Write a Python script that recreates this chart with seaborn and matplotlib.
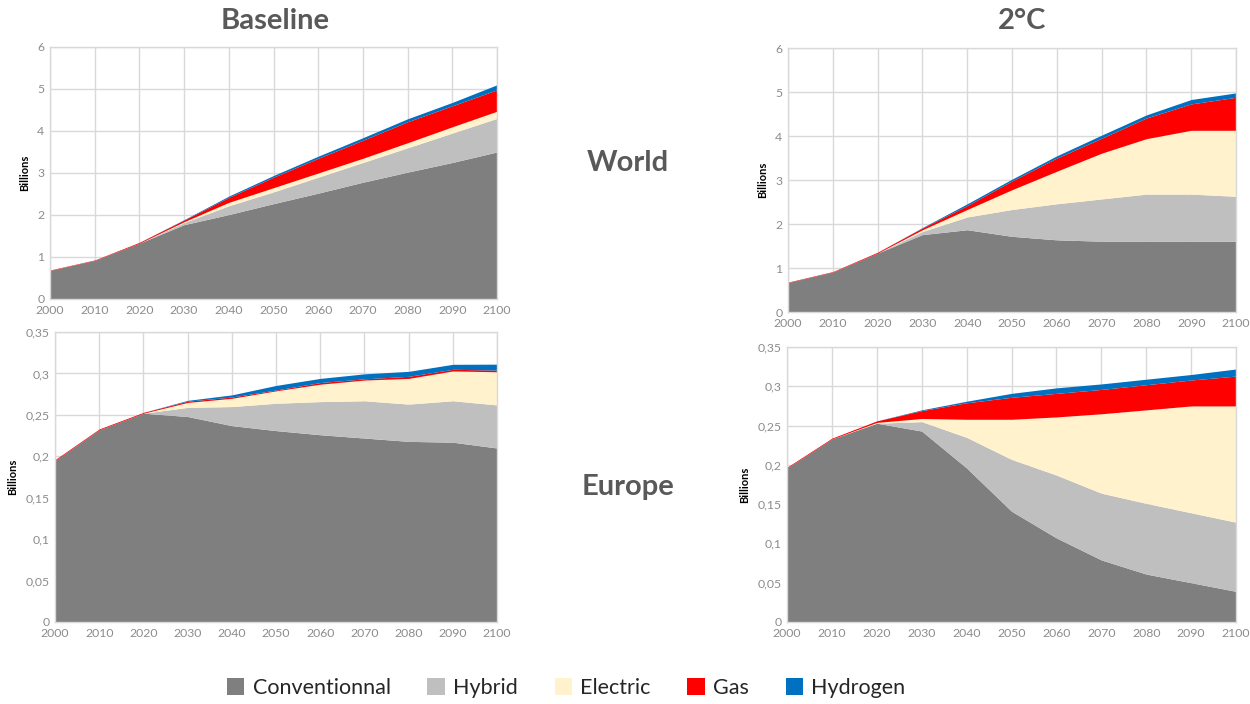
import matplotlib
matplotlib.use("Agg")
import matplotlib.pyplot as plt
import matplotlib.ticker as mticker
from matplotlib.patches import Patch
import numpy as np
import seaborn as sns

# data (billions of vehicles)
years = [2000, 2010, 2020, 2030, 2040, 2050, 2060, 2070, 2080, 2090, 2100]
categories = ["Conventionnal", "Hybrid", "Electric", "Gas", "Hydrogen"]

world_base_conv = [0.68, 0.92, 1.33, 1.77, 2.01, 2.27, 2.52, 2.78, 3.02, 3.25, 3.50]
world_base_hybrid = [0, 0, 0, 0.05, 0.21, 0.28, 0.38, 0.47, 0.58, 0.70, 0.80]
world_base_electric = [0, 0, 0, 0.02, 0.08, 0.10, 0.10, 0.10, 0.12, 0.15, 0.17]
world_base_gas = [0.01, 0.01, 0.02, 0.04, 0.12, 0.25, 0.35, 0.43, 0.50, 0.50, 0.51]
world_base_hydrogen = [0, 0, 0, 0.01, 0.03, 0.04, 0.05, 0.06, 0.07, 0.08, 0.12]

world_2c_conv = [0.67, 0.91, 1.34, 1.76, 1.87, 1.72, 1.64, 1.61, 1.61, 1.61, 1.61]
world_2c_hybrid = [0, 0, 0, 0.07, 0.29, 0.61, 0.82, 0.96, 1.07, 1.07, 1.02]
world_2c_electric = [0, 0, 0, 0.04, 0.17, 0.45, 0.74, 1.04, 1.26, 1.45, 1.50]
world_2c_gas = [0.01, 0.01, 0.02, 0.04, 0.09, 0.20, 0.30, 0.34, 0.47, 0.60, 0.75]
world_2c_hydrogen = [0, 0, 0, 0.01, 0.04, 0.04, 0.05, 0.07, 0.07, 0.10, 0.10]

europe_base_conv = [0.195, 0.232, 0.252, 0.248, 0.237, 0.231, 0.226, 0.222, 0.218, 0.217, 0.210]
europe_base_hybrid = [0, 0, 0, 0.011, 0.023, 0.033, 0.040, 0.045, 0.045, 0.050, 0.052]
europe_base_electric = [0, 0, 0, 0.006, 0.010, 0.015, 0.021, 0.025, 0.031, 0.036, 0.040]
europe_base_gas = [0.001, 0.001, 0.001, 0.0015, 0.0015, 0.001, 0.002, 0.0015, 0.0025, 0.002, 0.002]
europe_base_hydrogen = [0, 0, 0, 0.001, 0.0026, 0.0055, 0.005, 0.006, 0.006, 0.006, 0.0072]

europe_2c_conv = [0.196, 0.233, 0.253, 0.243, 0.196, 0.141, 0.107, 0.079, 0.061, 0.050, 0.039]
europe_2c_hybrid = [0, 0, 0, 0.012, 0.039, 0.066, 0.080, 0.085, 0.090, 0.089, 0.088]
europe_2c_electric = [0, 0, 0.001, 0.004, 0.023, 0.051, 0.074, 0.101, 0.119, 0.136, 0.148]
europe_2c_gas = [0.001, 0.001, 0.002, 0.010, 0.021, 0.028, 0.030, 0.031, 0.032, 0.033, 0.038]
europe_2c_hydrogen = [0, 0, 0, 0.001, 0.002, 0.005, 0.007, 0.007, 0.007, 0.007, 0.009]

world_yticks = [0, 1, 2, 3, 4, 5, 6]
europe_yticks = [0, 0.05, 0.1, 0.15, 0.2, 0.25, 0.3, 0.35]

colors = ["#7f7f7f", "#bfbfbf", "#fff2cc", "#ff0000", "#0070c0"]

sns.set_theme(style="white")
plt.rcParams["font.family"] = ["Lato", "DejaVu Sans"]

fig = plt.figure(figsize=(12.5, 7.04), dpi=100)

panels = [
    ([0.040, 0.5753, 0.3576, 0.3580],
     [world_base_conv, world_base_hybrid, world_base_electric, world_base_gas, world_base_hydrogen],
     world_yticks),
    ([0.6304, 0.5568, 0.3584, 0.3750],
     [world_2c_conv, world_2c_hybrid, world_2c_electric, world_2c_gas, world_2c_hydrogen],
     world_yticks),
    ([0.044, 0.1165, 0.3536, 0.4119],
     [europe_base_conv, europe_base_hybrid, europe_base_electric, europe_base_gas, europe_base_hydrogen],
     europe_yticks),
    ([0.6296, 0.1165, 0.3592, 0.3906],
     [europe_2c_conv, europe_2c_hybrid, europe_2c_electric, europe_2c_gas, europe_2c_hydrogen],
     europe_yticks),
]


def comma_fmt(v, pos):
    s = ("%.2f" % v).rstrip("0").rstrip(".")
    return s.replace(".", ",")


for rect, series, yticks in panels:
    ax = fig.add_axes(rect)
    ax.stackplot(years, *series, colors=colors, linewidth=0, zorder=2)
    ax.set_xlim(2000, 2100)
    ax.set_ylim(yticks[0], yticks[-1])
    ax.set_xticks(years)
    ax.set_yticks(yticks)
    ax.yaxis.set_major_formatter(mticker.FuncFormatter(comma_fmt))
    ax.grid(True, color="#d9d9d9", linewidth=1, zorder=0)
    ax.set_axisbelow(True)
    for side in ["top", "right", "left", "bottom"]:
        ax.spines[side].set_color("#d9d9d9")
        ax.spines[side].set_linewidth(1)
    ax.tick_params(axis="both", length=0, labelsize=8.8, colors="#8c8c8c", pad=4)
    ax.set_ylabel("Billions", fontsize=8, fontweight="bold", color="black", labelpad=5)

title_kw = dict(fontsize=21, fontweight="bold", color="#595959", ha="center", va="center")
fig.text(0.22, 0.970, "Baseline", **title_kw)
fig.text(0.8176, 0.970, "2°C", **title_kw)
fig.text(0.5024, 0.7685, "World", **title_kw)
fig.text(0.5024, 0.308, "Europe", **title_kw)

handles = [Patch(facecolor=c, edgecolor="none", label=l) for c, l in zip(colors, categories)]
fig.legend(handles=handles, loc="center", bbox_to_anchor=(0.453, 0.0227), ncol=5,
           frameon=False, fontsize=15.5, handlelength=0.8, handleheight=0.8,
           handletextpad=0.4, columnspacing=1.7, labelcolor="#262626")

fig.savefig("out.png", dpi=100)
